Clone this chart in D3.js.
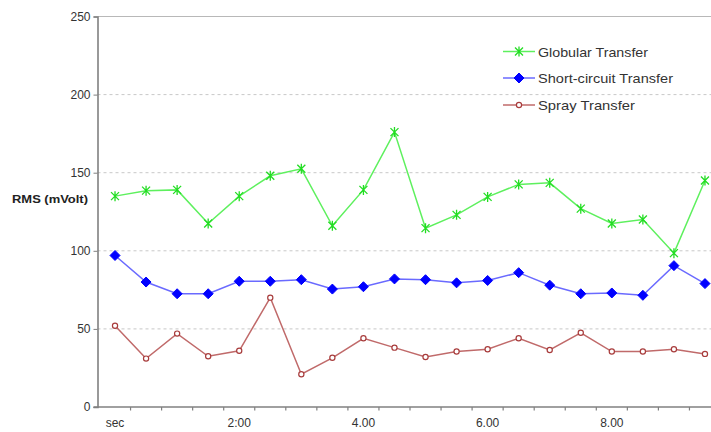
<!DOCTYPE html>
<html>
<head>
<meta charset="utf-8">
<script src="https://cdn.jsdelivr.net/npm/d3@7"></script>
<style>
  html, body { margin: 0; padding: 0; background: #fff; }
  svg { display: block; font-family: "Liberation Sans", Arial, sans-serif; }
</style>
</head>
<body>
<svg id="chart" width="711" height="432"></svg>
<script>
// Time points (minutes), one reading every 30 s
const minutes = [0, 0.5, 1, 1.5, 2, 2.5, 3, 3.5, 4, 4.5, 5, 5.5, 6, 6.5, 7, 7.5, 8, 8.5, 9, 9.5];
const xTickLabels = {0: "sec", 2: "2:00", 4: "4.00", 6: "6.00", 8: "8.00"};
const yTicks = [0, 50, 100, 150, 200, 250];

// RMS voltage per transfer mode (mVolt)
const globular     = [135, 138.5, 139, 117.5, 135, 148, 152.5, 116, 139, 176, 114.5, 123, 134.5, 142.5, 143.5, 127, 117.5, 120, 98.5, 145];
const shortCircuit = [97, 80, 72.5, 72.5, 80.5, 80.5, 81.5, 75.5, 77, 82, 81.5, 79.5, 81, 86, 78, 72.5, 73, 71.5, 90.5, 79];
const spray        = [52, 31, 47, 32.5, 36, 70, 21, 31.5, 44, 38, 32, 35.5, 37, 44, 36.5, 47.5, 35.5, 35.5, 37, 34];

const seriesNames = ["Globular Transfer", "Short-circuit Transfer", "Spray Transfer"];

const svg = d3.select("#chart");
const plotLeft = 97.5, plotBottom = 407, plotTop = 16.5;
const step = 31.05;

const x = d3.scaleBand()
  .domain(minutes)
  .range([99.5, 99.5 + step * minutes.length])
  .paddingInner(0).paddingOuter(0);
const y = d3.scaleLinear().domain([0, 250]).range([plotBottom, plotTop]);
const cx = d => x(d) + x.bandwidth() / 2;

// Horizontal grid
const grid = svg.append("g");
yTicks.filter(v => v > 0 && v < 250).forEach(v => {
  grid.append("line")
    .attr("x1", plotLeft).attr("x2", 711)
    .attr("y1", y(v)).attr("y2", y(v))
    .attr("stroke", "#c8c8c8").attr("stroke-width", 1)
    .attr("stroke-dasharray", "3,3");
});
grid.append("line")
  .attr("x1", plotLeft).attr("x2", 711)
  .attr("y1", y(250)).attr("y2", y(250))
  .attr("stroke", "#b8b8b8").attr("stroke-width", 1.2);

// Y axis
const yAxis = svg.append("g")
  .attr("transform", `translate(${plotLeft},0)`)
  .call(d3.axisLeft(y).tickValues(yTicks).tickSize(4).tickPadding(3).tickFormat(d3.format("d")));
yAxis.select(".domain").attr("stroke", "#808080").attr("stroke-width", 1.6);
yAxis.selectAll(".tick line").attr("stroke", "#808080");
yAxis.selectAll(".tick text").attr("fill", "#333").style("font-size", "12px")
  .attr("font-family", "Liberation Sans, Arial, sans-serif");

// X axis line and ticks at category boundaries
const xg = svg.append("g");
xg.append("line")
  .attr("x1", plotLeft - 4).attr("x2", 711)
  .attr("y1", plotBottom).attr("y2", plotBottom)
  .attr("stroke", "#808080").attr("stroke-width", 1.6);
minutes.forEach(m => {
  const tx = x(m) + x.bandwidth();
  xg.append("line")
    .attr("x1", tx).attr("x2", tx)
    .attr("y1", plotBottom).attr("y2", plotBottom + 3.5)
    .attr("stroke", "#808080").attr("stroke-width", 1.2);
});
minutes.filter(m => xTickLabels[m] !== undefined).forEach(m => {
  xg.append("text")
    .attr("x", cx(m)).attr("y", 427)
    .attr("text-anchor", "middle")
    .attr("fill", "#333").style("font-size", "12px")
    .text(xTickLabels[m]);
});

// Y axis title
svg.append("text")
  .attr("x", 12).attr("y", 203)
  .attr("fill", "#222").style("font-size", "11px").style("font-weight", "bold")
  .attr("textLength", 76).attr("lengthAdjust", "spacingAndGlyphs")
  .text("RMS (mVolt)");

// Series
const styles = [
  {data: globular, line: "#5ef05e", mark: "#22dd22", type: "star"},
  {data: shortCircuit, line: "#6a6aff", mark: "#0000ff", type: "diamond"},
  {data: spray, line: "#c06a6a", mark: "#a83c3c", type: "circle"}
];

const lineGen = d3.line().x((d, i) => cx(minutes[i])).y(d => y(d));

function drawMarker(g, type, px, py, color) {
  if (type === "star") {
    const a = 4;
    g.append("path")
      .attr("d", `M${px - a},${py - a}L${px + a},${py + a}M${px - a},${py + a}L${px + a},${py - a}M${px},${py - 5}L${px},${py + 5}`)
      .attr("stroke", color).attr("stroke-width", 1.3).attr("fill", "none");
  } else if (type === "diamond") {
    const r = 5;
    g.append("path")
      .attr("d", `M${px},${py - r}L${px + r},${py}L${px},${py + r}L${px - r},${py}Z`)
      .attr("fill", color).attr("stroke", color).attr("stroke-width", 1).attr("stroke-linejoin", "round");
  } else {
    g.append("circle")
      .attr("cx", px).attr("cy", py).attr("r", 2.6)
      .attr("fill", "#fff").attr("stroke", color).attr("stroke-width", 1.2);
  }
}

styles.forEach(s => {
  const g = svg.append("g");
  g.append("path")
    .datum(s.data)
    .attr("d", lineGen)
    .attr("fill", "none")
    .attr("stroke", s.line)
    .attr("stroke-width", 1.5);
  s.data.forEach((v, i) => drawMarker(g, s.type, cx(minutes[i]), y(v), s.mark));
});

// Legend
const legend = svg.append("g");
const legendRows = [51.5, 78, 105];
const legendWidths = [110, 135, 97];
seriesNames.forEach((name, i) => {
  const ly = legendRows[i];
  const s = styles[i];
  legend.append("line")
    .attr("x1", 503).attr("x2", 535).attr("y1", ly).attr("y2", ly)
    .attr("stroke", s.line).attr("stroke-width", 1.5);
  drawMarker(legend, s.type, 519, ly, s.mark);
  legend.append("text")
    .attr("x", 538).attr("y", ly + 5)
    .attr("fill", "#333").style("font-size", "13.5px")
    .attr("textLength", legendWidths[i]).attr("lengthAdjust", "spacingAndGlyphs")
    .text(name);
});
</script>
</body>
</html>
